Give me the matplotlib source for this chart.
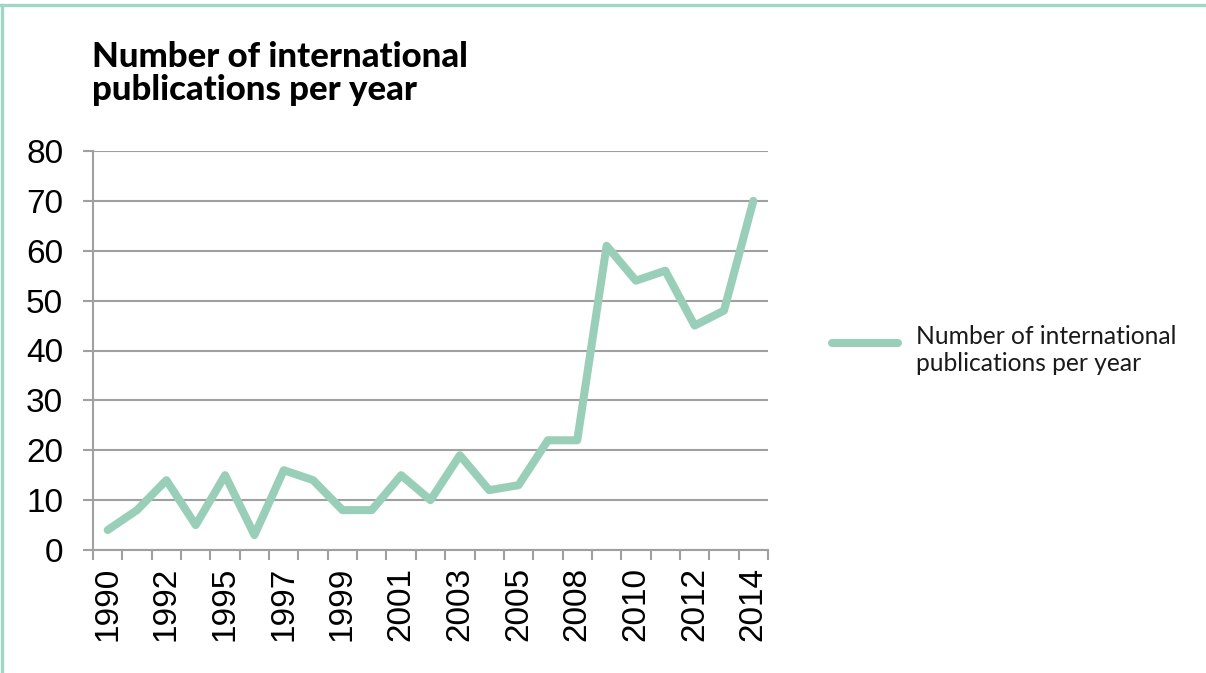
import matplotlib
matplotlib.use("Agg")
import matplotlib.pyplot as plt
from matplotlib.lines import Line2D
import numpy as np

years = [1990, 1991, 1992, 1994, 1995, 1996, 1997, 1998, 1999, 2000, 2001, 2002,
         2003, 2004, 2005, 2007, 2008, 2009, 2010, 2011, 2012, 2013, 2014]
publications = [4, 8, 14, 5, 15, 3, 16, 14, 8, 8, 15, 10,
                19, 12, 13, 22, 22, 61, 54, 56, 45, 48, 70]
y_ticks = [0, 10, 20, 30, 40, 50, 60, 70, 80]
title = "Number of international\npublications per year"
series_label = "Number of international\npublications per year"

line_color = "#99CFB8"
grid_color = "#A0A0A0"
frame_color = "#9FD6C6"

fig = plt.figure(figsize=(12.06, 6.73), dpi=100)
W, H = 1206, 673

# light frame along the top and left edges
fig.add_artist(Line2D([1 / W, 1205 / W], [1 - 5 / H, 1 - 5 / H], color=frame_color,
                      lw=2.4, transform=fig.transFigure))
fig.add_artist(Line2D([2 / W, 2 / W], [0, 1 - 5 / H], color=frame_color,
                      lw=2.4, transform=fig.transFigure))

ax = fig.add_axes([93 / W, 1 - 550 / H, (768 - 93) / W, (550 - 151) / H])

x = np.arange(len(years))
ax.plot(x, publications, color=line_color, lw=5.8, solid_joinstyle="round",
        solid_capstyle="round", zorder=3)

ax.set_xlim(-0.5, len(years) - 0.5)
ax.set_ylim(0, 80)
ax.set_yticks(y_ticks)
ax.set_yticklabels([str(v) for v in y_ticks], fontsize=24, family="Liberation Sans")
ax.yaxis.grid(True, color=grid_color, lw=1.5)
ax.set_axisbelow(True)

# category boundaries carry the tick marks; every second category is labelled
ax.set_xticks(np.arange(len(years) + 1) - 0.5)
ax.set_xticklabels([])
ax.set_xticks(x[::2], minor=True)
ax.set_xticklabels([str(years[i]) for i in x[::2]], minor=True, rotation=90,
                   fontsize=24, family="Liberation Sans")
ax.tick_params(axis="x", which="major", length=7.5, width=1.5, color=grid_color)
ax.tick_params(axis="x", which="minor", length=0, pad=12)
ax.tick_params(axis="y", length=7.5, width=1.5, color=grid_color, pad=14)

for side in ["top", "right"]:
    ax.spines[side].set_visible(False)
for side in ["left", "bottom"]:
    ax.spines[side].set_color(grid_color)
    ax.spines[side].set_linewidth(1.5)

fig.text(92 / W, 1 - 41 / H, title, fontsize=25, fontweight="black",
         family="Lato", va="top", ha="left", linespacing=1.05)

# legend entry
fig.add_artist(Line2D([832 / W, 898 / W], [1 - 343 / H, 1 - 343 / H], color=line_color,
                      lw=5.8, solid_capstyle="round", transform=fig.transFigure))
fig.text(916 / W, 1 - 350 / H, series_label, fontsize=17.7, family="Lato",
         fontweight="normal", va="center", ha="left", linespacing=1.18, color="#1a1a1a")

fig.savefig("out.png", dpi=100)
